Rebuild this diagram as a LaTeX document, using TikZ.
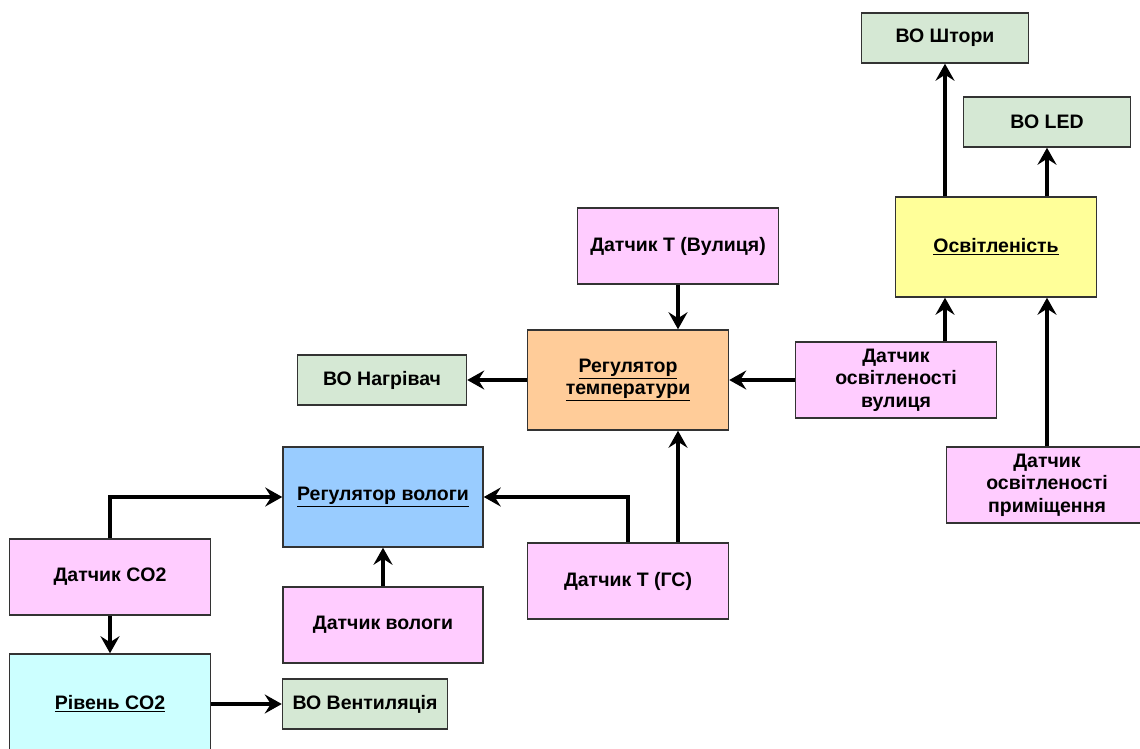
\documentclass[tikz,border=0pt]{standalone}
\usepackage{fontspec}
\setmainfont{Liberation Sans}
\usetikzlibrary{arrows.meta}
\definecolor{outgreen}{HTML}{D5E8D4}
\definecolor{sensorpink}{HTML}{FFCCFF}
\definecolor{lightyellow}{HTML}{FFFF99}
\definecolor{regorange}{HTML}{FFCC99}
\definecolor{regblue}{HTML}{99CCFF}
\definecolor{levelcyan}{HTML}{CCFFFF}
\begin{document}
\begin{tikzpicture}
[x=1pt,y=-1pt,
font=\fontsize{19.5}{22.5}\selectfont\bfseries,
box/.style={rectangle,draw=black!80,line width=1.5pt,align=center,inner sep=0pt},
output/.style={box,fill=outgreen,minimum width=167pt,minimum height=50pt},
sensor/.style={box,fill=sensorpink,minimum width=201pt,minimum height=76pt},
control/.style={box,minimum width=201pt,minimum height=100pt},
link/.style={line width=3.2pt,-{Stealth[length=17pt,width=19pt,inset=6pt]}}]
\useasboundingbox (0,0) rectangle (1140,749);
% outputs
\node[output] (shtory) at (945,38) {ВО Штори};
\node[output] (led) at (1047,122) {ВО LED};
\node[output,minimum width=169pt] (heater) at (382,380) {ВО Нагрівач};
\node[output,minimum width=165pt] (vent) at (365,704) {ВО Вентиляція};
% controllers
\node[control,fill=lightyellow] (light) at (996,247) {\underline{Освітленість}};
\node[control,fill=regorange] (tempreg) at (628,380) {\underline{Регулятор}\\\underline{температури}};
\node[control,fill=regblue,minimum width=200pt] (humreg) at (383,497) {\underline{Регулятор вологи}};
\node[control,fill=levelcyan] (co2level) at (110,704) {\underline{Рівень CO2}};
% sensors
\node[sensor] (tout) at (678,246) {Датчик Т (Вулиця)};
\node[sensor] (lout) at (896,380) {Датчик\\освітленості\\вулиця};
\node[sensor] (lin) at (1047,485) {Датчик\\освітленості\\приміщення};
\node[sensor] (tgs) at (628,581) {Датчик Т (ГС)};
\node[sensor,minimum width=200pt] (hum) at (383,625) {Датчик вологи};
\node[sensor] (co2) at (110,577) {Датчик CO2};
% links
\draw[link] (shtory.south |- light.north) -- (shtory.south);
\draw[link] (led.south |- light.north) -- (led.south);
\draw[link] (shtory.south |- lout.north) -- (shtory.south |- light.south);
\draw[link] (lin.north) -- (lin.north |- light.south);
\draw[link] (tout.south) -- (tout.south |- tempreg.north);
\draw[link] (lout.west) -- (tempreg.east);
\draw[link] (tempreg.west) -- (heater.east);
\draw[link] (tout.south |- tgs.north) -- (tout.south |- tempreg.south);
\draw[link] (tgs.north) |- (humreg.east);
\draw[link] (hum.north) -- (humreg.south);
\draw[link] (co2.north) |- (humreg.west);
\draw[link] (co2.south) -- (co2level.north);
\draw[link] (co2level.east) -- (vent.west);
\end{tikzpicture}
\end{document}
